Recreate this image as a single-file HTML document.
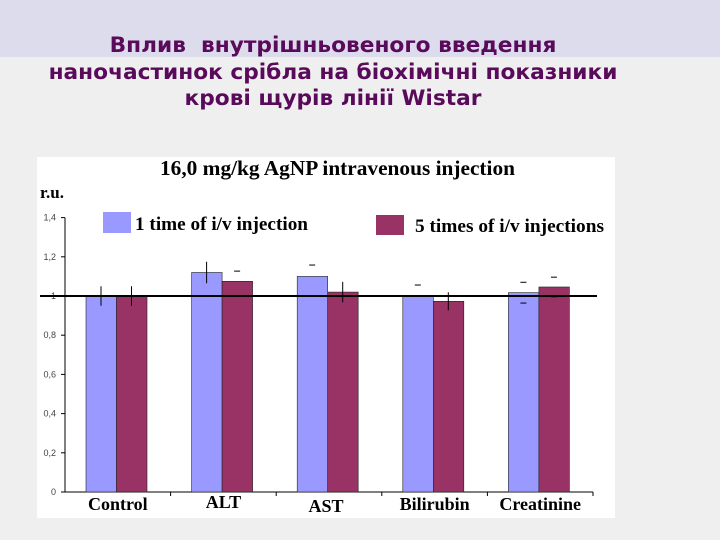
<!DOCTYPE html>
<html><head><meta charset="utf-8"><style>
body{margin:0;width:720px;height:540px;overflow:hidden;background:#efefef;font-family:"Liberation Sans",sans-serif}
#band{position:absolute;left:0;top:0;width:720px;height:57px;background:#dcdcec}
#title{position:absolute;left:0;top:33px;width:666px;text-align:center;color:#5a0a5a;font:bold 21.7px/26.5px "DejaVu Sans","Liberation Sans",sans-serif;white-space:nowrap}
#panel{position:absolute;left:37px;top:157px;width:578px;height:361px;background:#fff}
svg{position:absolute;left:0;top:0}
</style></head><body>
<div id="band"></div>
<div id="title">Вплив&nbsp; внутрішньовеного введення<br>наночастинок срібла на біохімічні показники<br>крові щурів лінії Wistar</div>
<div id="panel"></div>
<svg id="chart" width="720" height="540">
<text x="160" y="175" textLength="355" lengthAdjust="spacingAndGlyphs" font-family="Liberation Serif" font-weight="bold" font-size="21">16,0 mg/kg AgNP intravenous injection</text>
<text x="40" y="198" font-family="Liberation Serif" font-weight="bold" font-size="17">r.u.</text>
<rect x="103" y="212" width="28" height="21" fill="#9999ff"/>
<text x="135" y="230" textLength="173" lengthAdjust="spacingAndGlyphs" font-family="Liberation Serif" font-weight="bold" font-size="19">1 time of i/v injection</text>
<rect x="376" y="215" width="28" height="20" fill="#993366"/>
<text x="415" y="232" textLength="189" lengthAdjust="spacingAndGlyphs" font-family="Liberation Serif" font-weight="bold" font-size="19">5 times of i/v injections</text>
</svg>
<script>
const categories=["Control","ALT","AST","Bilirubin","Creatinine"];
const series1=[1.0,1.12,1.10,1.0,1.017];
const series2=[1.0,1.075,1.02,0.973,1.046];
const err1=[0.05,0.055,0.058,0.056,0.053];
const err2=[0.05,0.052,0.052,0.046,0.05];
const errLine1=[true,true,false,false,false];
const errLine2=[true,false,true,true,false];
const errLow1=[true,true,false,false,true];
const errLow2=[true,false,true,true,true];
const yTicks=[0,0.2,0.4,0.6,0.8,1,1.2,1.4];
const yTickLabels=["0","0,2","0,4","0,6","0,8","1","1,2","1,4"];
const X0=65,PW=528,Y0=492,YS=196,NS="http://www.w3.org/2000/svg";
const svg=document.getElementById('chart');
const cw=PW/categories.length;
const y=v=>Y0-v*YS;
const xb=(i,s)=>X0+i*cw+21+s*30.5;
function mk(t,a){const e=document.createElementNS(NS,t);for(const k in a)e.setAttribute(k,a[k]);svg.appendChild(e);return e;}
let e=mk('line',{x1:X0,y1:y(1.4),x2:X0,y2:Y0,stroke:'#000'});


e=mk('line',{x1:X0,y1:Y0,x2:X0+PW,y2:Y0,stroke:'#000'});


yTicks.forEach((v,i)=>{
 const t=mk('line',{x1:X0-4,y1:y(v),x2:X0,y2:y(v),stroke:'#000'});
 
 
 const l=mk('text',{x:56,y:y(v)+3,'text-anchor':'end','font-size':'9',fill:'#444'});
 l.textContent=yTickLabels[i];
 
 
});
categories.forEach((c,i)=>{
 const t=mk('line',{x1:X0+(i+1)*cw,y1:Y0,x2:X0+(i+1)*cw,y2:Y0+4,stroke:'#000'});
 
 
 const l=mk('text',{x:X0+i*cw+cw/2+(i==2?-3:0),y:Y0+(i==1?16:i==2?20:18),'text-anchor':'middle','font-family':'Liberation Serif','font-weight':'bold','font-size':'18'});
 l.textContent=c;
 
 
 [[series1,err1,errLine1,errLow1,'#9999ff'],[series2,err2,errLine2,errLow2,'#993366']].forEach((s,si)=>{
  const v=s[0][i],er=s[1][i],x=xb(i,si);
  const r=mk('rect',{x:x,y:y(v),width:30.5,height:Y0-y(v),fill:s[4],stroke:'#222','stroke-width':'0.6'});
  
  
  const cx=x+15;
  if(s[2][i]){
   const el=mk('line',{x1:cx,y1:y(v+er),x2:cx,y2:y(v-er),stroke:'#000'});
   
   
  } else {
   const d1=mk('line',{x1:cx-3,y1:y(v+er),x2:cx+3,y2:y(v+er),stroke:'#000'});
   
   
   if(s[3][i]){
    const d2=mk('line',{x1:cx-3,y1:y(v-er),x2:cx+3,y2:y(v-er),stroke:'#000'});
    
    
   }
  }
 });
});
e=mk('line',{x1:X0-25,y1:y(1),x2:X0+PW+4,y2:y(1),stroke:'#000','stroke-width':'2'});


</script>
</body></html>
